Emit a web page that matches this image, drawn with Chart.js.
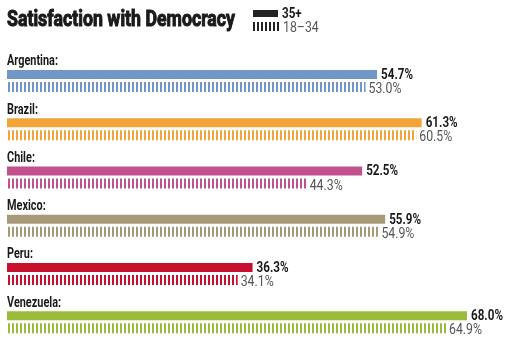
<!DOCTYPE html>
<html>
<head>
<meta charset="utf-8">
<script src="https://cdn.jsdelivr.net/npm/chart.js@4/dist/chart.umd.min.js"></script>
<style>
  html, body { margin: 0; padding: 0; background: #fff; }
  #wrap { width: 510px; height: 340px; position: relative; }
</style>
</head>
<body>
<div id="wrap"><canvas id="chart"></canvas></div>
<script>
// data
const countries = ['Argentina', 'Brazil', 'Chile', 'Mexico', 'Peru', 'Venezuela'];
const older = [54.7, 61.3, 52.5, 55.9, 36.3, 68.0];   // 35+
const younger = [53.0, 60.5, 44.3, 54.9, 34.1, 64.9]; // 18-34
const barColors = ['#7097c6', '#f0a43a', '#c1508f', '#a69a78', '#c8102e', '#9bbb3b'];
const seriesNames = ['35+', '18\u201334'];

const FONT = "Roboto, 'DejaVu Sans', sans-serif";

// vertical stripes for the 18-34 bars
function stripes(color) {
    const c = document.createElement('canvas');
    c.width = 4; c.height = 10;
    const g = c.getContext('2d');
    g.fillStyle = color;
    g.fillRect(0, 0, 2, 10);
    return g.createPattern(c, 'repeat');
}

// the original uses a condensed face, so squeeze text horizontally
function squeezed(ctx, text, x, y, sx, heavy) {
    ctx.save();
    ctx.translate(x, y);
    ctx.scale(sx, 1);
    ctx.fillText(text, 0, 0);
    if (heavy) {
        ctx.strokeStyle = ctx.fillStyle;
        ctx.lineWidth = heavy;
        ctx.strokeText(text, 0, 0);
    }
    ctx.restore();
}

const textPlugin = {
    id: 'texts',
    afterDatasetsDraw(chart) {
        const ctx = chart.ctx;
        const area = chart.chartArea;
        const m0 = chart.getDatasetMeta(0);
        const m1 = chart.getDatasetMeta(1);
        ctx.save();
        ctx.textAlign = 'left';
        ctx.textBaseline = 'alphabetic';

        ctx.font = 'bold 14px ' + FONT;
        const sxBold = 32 / ctx.measureText('54.7%').width;
        const sxLabel = 51 / ctx.measureText('Argentina:').width;
        ctx.font = '14px ' + FONT;
        const sxNorm = 33 / ctx.measureText('53.0%').width;

        // title
        ctx.font = 'bold 22px ' + FONT;
        const tw = ctx.measureText('Satisfaction with Democracy').width;
        ctx.fillStyle = '#1a1a1a';
        squeezed(ctx, 'Satisfaction with Democracy', 7, 26, 228 / tw, 1);

        // legend
        ctx.fillStyle = '#222';
        ctx.fillRect(253, 10, 25, 7);
        for (let x = 253; x < 278; x += 4) ctx.fillRect(x, 22, 2, 9);
        ctx.font = 'bold 14px ' + FONT;
        ctx.fillStyle = '#1a1a1a';
        squeezed(ctx, seriesNames[0], 282, 18, sxBold);
        ctx.font = '14px ' + FONT;
        ctx.fillStyle = '#555';
        squeezed(ctx, seriesNames[1], 283, 32, sxNorm);

        countries.forEach((name, i) => {
            const b0 = m0.data[i];
            const b1 = m1.data[i];
            const mid = (b0.y + b1.y) / 2;
            ctx.font = 'bold 14px ' + FONT;
            ctx.fillStyle = '#1a1a1a';
            squeezed(ctx, name + ':', area.left, mid - 15.5, sxLabel);
            squeezed(ctx, older[i].toFixed(1) + '%', b0.x + 4, b0.y + 4.5, sxBold);
            ctx.font = '14px ' + FONT;
            ctx.fillStyle = '#555';
            squeezed(ctx, younger[i].toFixed(1) + '%', b1.x + 3, b1.y + 6, sxNorm);
        });
        ctx.restore();
    }
};

new Chart(document.getElementById('chart').getContext('2d'), {
    type: 'bar',
    data: {
        labels: countries,
        datasets: [
            { label: seriesNames[0], data: older, backgroundColor: barColors, barPercentage: 0.72, clip: false },
            { label: seriesNames[1], data: younger, backgroundColor: barColors.map(stripes), barPercentage: 0.8, clip: false }
        ]
    },
    options: {
        indexAxis: 'y',
        responsive: true,
        maintainAspectRatio: false,
        animation: false,
        categoryPercentage: 0.52,
        layout: { padding: { left: 7, right: 43, top: 80.75, bottom: 18 } },
        scales: {
            x: { display: false, min: 0, max: 68 },
            y: { display: false, offset: false }
        },
        plugins: {
            legend: { display: false },
            tooltip: { enabled: false }
        }
    },
    plugins: [textPlugin]
});
</script>
</body>
</html>
